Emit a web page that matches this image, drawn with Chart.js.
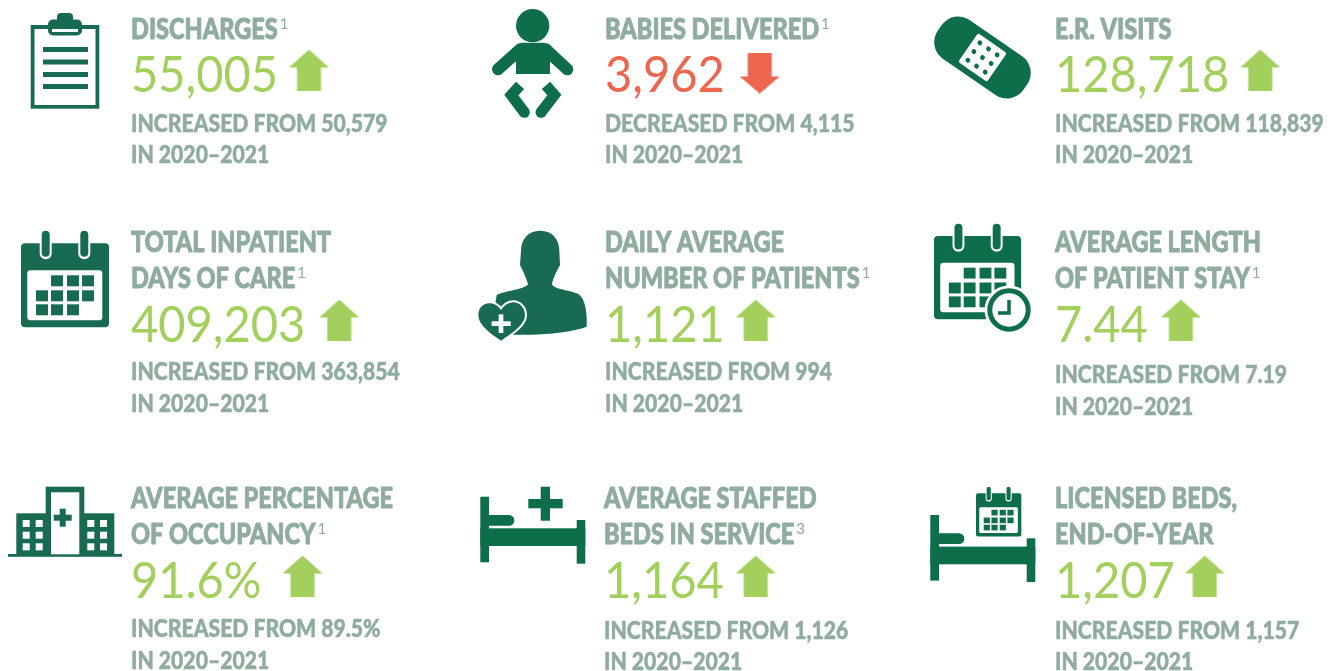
<!DOCTYPE html>
<html>
<head>
<meta charset="utf-8">
<title>Hospital statistics</title>
<script src="https://cdn.jsdelivr.net/npm/chart.js"></script>
<style>
  html, body { margin: 0; padding: 0; background: #fff; overflow: hidden; }
  canvas { display: block; }
</style>
</head>
<body>
<canvas id="stats" width="1340" height="671"></canvas>
<script>
// Data
const titles = [
  ["DISCHARGES"],
  ["BABIES DELIVERED"],
  ["E.R. VISITS"],
  ["TOTAL INPATIENT", "DAYS OF CARE"],
  ["DAILY AVERAGE", "NUMBER OF PATIENTS"],
  ["AVERAGE LENGTH", "OF PATIENT STAY"],
  ["AVERAGE PERCENTAGE", "OF OCCUPANCY"],
  ["AVERAGE STAFFED", "BEDS IN SERVICE"],
  ["LICENSED BEDS,", "END-OF-YEAR"],
]
const footnotes = ["1", "1", "", "1", "1", "1", "1", "3", ""]
const currentValues = [55005, 3962, 128718, 409203, 1121, 7.44, 91.6, 1164, 1207]
const previousValues = [50579, 4115, 118839, 363854, 994, 7.19, 89.5, 1126, 1157]
const units = ["", "", "", "", "", "", "%", "", ""]
const period = "IN 2020–2021"

// Layout of the tiles, in canvas pixels
const tileX = [131, 605, 1055, 131, 605, 1055, 131, 604, 1055]
const titleLines = [[39], [39], [39], [252, 288], [252, 288], [252, 288], [508, 544], [508, 544], [508, 544]]
const numberLine = [92, 92, 92, 342, 342, 342, 598, 598, 598]
const subLines = [[132, 163], [132, 163], [132, 163], [380, 412], [380, 412], [383, 415], [637, 669], [639, 670], [639, 670]]
const arrowGap = [31, 35, 31, 34, 31, 33, 41, 32, 30]

// Colours
const titleColor = "#8fac9d"
const upColor = "#a3d05d"
const downColor = "#ec6650"
const darkA = "#186b52"
const darkB = "#0e6e4a"

const titleFont = '900 28px Lato'
const subFont = '900 25.5px Lato'
const numberFont = '400 50px Lato'
const titleStretch = 0.84
const subStretch = 0.83
const numberStretch = 0.94

function formatValue(v, unit) {
  return v.toLocaleString("en-US") + unit
}

function subLine(i) {
  const word = currentValues[i] > previousValues[i] ? "INCREASED" : "DECREASED"
  return word + " FROM " + formatValue(previousValues[i], units[i])
}

// Arrow images handed to Chart.js as point styles
function makeArrow(color, up) {
  const c = document.createElement("canvas")
  c.width = 41
  c.height = 41
  const g = c.getContext("2d")
  g.fillStyle = color
  g.beginPath()
  if (up) {
    g.moveTo(20.5, 0); g.lineTo(40.5, 18); g.lineTo(32.5, 18); g.lineTo(32.5, 41)
    g.lineTo(8.5, 41); g.lineTo(8.5, 18); g.lineTo(0.5, 18)
  } else {
    g.moveTo(20.5, 41); g.lineTo(40.5, 24); g.lineTo(32.5, 24); g.lineTo(32.5, 0)
    g.lineTo(8.5, 0); g.lineTo(8.5, 24); g.lineTo(0.5, 24)
  }
  g.closePath()
  g.fill()
  return c
}
const arrowUp = makeArrow(upColor, true)
const arrowDown = makeArrow(downColor, false)

// Arrows sit right after the number, so measure it first
const measure = document.createElement("canvas").getContext("2d")
measure.font = numberFont
const arrowPoints = currentValues.map((v, i) => {
  const w = measure.measureText(formatValue(v, units[i])).width * numberStretch
  const up = v > previousValues[i]
  return {
    x: tileX[i] + w + arrowGap[i],
    y: numberLine[i] - (up ? 22 : 19),
  }
})

// heavy = thicken the glyphs a bit, the Lato black is lighter than the original face
function stretchedText(ctx, text, x, y, stretch, heavy) {
  ctx.save()
  ctx.translate(x, y)
  ctx.scale(stretch, 1)
  ctx.fillText(text, 0, 0)
  if (heavy) {
    ctx.strokeStyle = ctx.fillStyle
    ctx.lineWidth = heavy
    ctx.strokeText(text, 0, 0)
  }
  ctx.restore()
}

function rr(ctx, x, y, w, h, r) {
  ctx.beginPath()
  ctx.roundRect(x, y, w, h, r)
  ctx.fill()
}

function drawClipboard(ctx) {
  ctx.fillStyle = darkA
  ctx.fillRect(30.7, 25, 68.6, 83.7)
  ctx.fillStyle = "#fff"
  ctx.fillRect(34.5, 29, 61, 76)
  ctx.fillStyle = darkA
  rr(ctx, 57, 13, 16, 12, 4)
  rr(ctx, 48, 19.5, 34, 16, 5)
  ctx.fillStyle = "#fff"
  ctx.fillRect(52, 29, 26, 3)
  ctx.fillStyle = darkA
  ;[47, 59.5, 72, 84].forEach((y) => ctx.fillRect(43, y, 45, 5))
}

function drawBaby(ctx) {
  const ox = 470
  const p = (v) => v / 3
  ctx.fillStyle = darkB
  ctx.strokeStyle = darkB
  ctx.beginPath()
  ctx.arc(ox + p(188), p(77), p(50), 0, Math.PI * 2)
  ctx.fill()
  ctx.beginPath()
  ctx.moveTo(ox + p(155), p(128)); ctx.lineTo(ox + p(222), p(128)); ctx.lineTo(ox + p(240), p(145))
  ctx.lineTo(ox + p(240), p(222)); ctx.lineTo(ox + p(138), p(222)); ctx.lineTo(ox + p(138), p(145))
  ctx.closePath()
  ctx.fill()
  ctx.lineWidth = 12
  ctx.lineCap = "round"
  ctx.lineJoin = "miter"
  ;[[[152, 147], [84, 208]], [[226, 147], [292, 208]]].forEach((a) => {
    ctx.beginPath()
    ctx.moveTo(ox + p(a[0][0]), p(a[0][1]))
    ctx.lineTo(ox + p(a[1][0]), p(a[1][1]))
    ctx.stroke()
  })
  ctx.lineWidth = 11
  ;[[[150, 256], [124, 285], [163, 337]], [[228, 256], [253, 285], [213, 337]]].forEach((l) => {
    ctx.lineCap = "butt"
    ctx.beginPath()
    ctx.moveTo(ox + p(l[0][0]), p(l[0][1]))
    ctx.lineTo(ox + p(l[1][0]), p(l[1][1]))
    ctx.lineTo(ox + p(l[2][0]), p(l[2][1]))
    ctx.stroke()
    ctx.beginPath()
    ctx.arc(ox + p(l[2][0]), p(l[2][1]), 5.5, 0, Math.PI * 2)
    ctx.fill()
  })
}

function drawBandage(ctx) {
  ctx.save()
  ctx.translate(982.5, 57.5)
  ctx.rotate((34.6 * Math.PI) / 180)
  ctx.fillStyle = darkB
  rr(ctx, -52, -23.5, 104, 47, 20)
  ctx.fillStyle = "#fff"
  rr(ctx, -17.5, -17.5, 35, 35, 2)
  ctx.fillStyle = darkB
  for (let a = -1; a <= 1; a++) {
    for (let b = -1; b <= 1; b++) {
      ctx.beginPath()
      ctx.arc(a * 10.5, b * 10.5, 2.4, 0, Math.PI * 2)
      ctx.fill()
    }
  }
  ctx.restore()
}

// x, y = top left of the calendar body, s = scale against the big one
function drawCalendar(ctx, x, y, s, color) {
  ctx.fillStyle = color
  rr(ctx, x, y, 88 * s, 84 * s, 4 * s)
  ;[24.7, 63.3].forEach((rx) => {
    ctx.fillStyle = "#fff"
    rr(ctx, x + (rx - 6) * s, y - 8 * s, 12 * s, 24 * s, 6 * s)
    ctx.fillStyle = color
    rr(ctx, x + (rx - 4) * s, y - 12.5 * s, 8 * s, 26 * s, 4 * s)
  })
  ctx.fillStyle = "#fff"
  rr(ctx, x + 6.3 * s, y + 27 * s, 75 * s, 50 * s, 3 * s)
  ctx.fillStyle = color
  const cols = [15, 30, 46, 61]
  const rows = [32, 47, 61]
  const cells = [[1, 2, 3], [0, 1, 2, 3], [0, 1, 2]]
  cells.forEach((r, ri) => r.forEach((c) => ctx.fillRect(x + cols[c] * s, y + rows[ri] * s, 12 * s, 11 * s)))
}

function drawClock(ctx, cx, cy) {
  ctx.fillStyle = "#fff"
  ctx.beginPath()
  ctx.arc(cx, cy, 24.5, 0, Math.PI * 2)
  ctx.fill()
  ctx.strokeStyle = darkB
  ctx.lineWidth = 5
  ctx.beginPath()
  ctx.arc(cx, cy, 19.2, 0, Math.PI * 2)
  ctx.stroke()
  ctx.lineWidth = 3.5
  ctx.lineCap = "butt"
  ctx.lineJoin = "miter"
  ctx.beginPath()
  ctx.moveTo(cx, cy - 10)
  ctx.lineTo(cx, cy + 3)
  ctx.lineTo(cx - 11, cy + 3)
  ctx.stroke()
}

function drawPerson(ctx) {
  ctx.save()
  ctx.translate(470, 220)
  ctx.scale(1 / 3, 1 / 3)
  ctx.fillStyle = darkA
  ctx.beginPath()
  ctx.moveTo(210, 32)
  ctx.bezierCurveTo(248, 32, 268, 58, 268, 92)
  ctx.lineTo(270, 135)
  ctx.bezierCurveTo(262, 150, 250, 172, 246, 192)
  ctx.bezierCurveTo(250, 208, 300, 210, 325, 222)
  ctx.bezierCurveTo(345, 235, 352, 275, 350, 320)
  ctx.bezierCurveTo(300, 338, 220, 346, 130, 344)
  ctx.lineTo(70, 290)
  ctx.lineTo(80, 225)
  ctx.bezierCurveTo(105, 212, 168, 208, 174, 192)
  ctx.bezierCurveTo(168, 172, 158, 150, 150, 135)
  ctx.lineTo(153, 92)
  ctx.bezierCurveTo(153, 58, 175, 32, 210, 32)
  ctx.closePath()
  ctx.fill()
  const heart = new Path2D("M93 362C60 340 25 315 25 285C25 262 42 250 58 250C72 250 85 258 93 270C101 258 115 247 130 247C150 247 165 265 165 285C165 315 125 340 93 362Z")
  ctx.strokeStyle = "#fff"
  ctx.lineWidth = 12
  ctx.stroke(heart)
  ctx.fill(heart)
  ctx.fillStyle = "#fff"
  ctx.fillRect(65, 304, 57, 14)
  ctx.fillRect(86, 283, 14, 56)
  ctx.restore()
}

function drawHospital(ctx) {
  ctx.fillStyle = darkA
  ctx.fillRect(8, 554, 114, 2.8)
  ctx.fillRect(16.3, 513.3, 98, 41)
  ctx.fillRect(45.7, 486.7, 38.6, 68)
  ctx.fillStyle = "#fff"
  ctx.fillRect(51, 492.3, 28.3, 62)
  ctx.fillStyle = darkA
  ctx.fillRect(53.7, 514.7, 18, 6)
  ctx.fillRect(59.7, 508.7, 6, 18)
  ctx.fillStyle = "#fff"
  ;[22.7, 35.7, 87.3, 100].forEach((x) => {
    ;[520, 531.7, 543.3].forEach((y) => ctx.fillRect(x, y, 7, 7))
  })
}

function drawBed(ctx, x, y) {
  ctx.fillStyle = darkB
  ctx.fillRect(x, y, 8.7, 65.6)
  ctx.fillRect(x + 96.4, y + 23.3, 8.6, 43.7)
  ctx.fillRect(x, y + 31.6, 105, 17.7)
  rr(ctx, x + 6, y + 18.3, 28, 10.7, [0, 5.3, 5.3, 0])
}

function drawIcons(ctx) {
  drawClipboard(ctx)
  drawBaby(ctx)
  drawBandage(ctx)
  drawCalendar(ctx, 21, 243.3, 1, darkA)
  drawPerson(ctx)
  drawCalendar(ctx, 934, 236, 0.99, darkB)
  drawClock(ctx, 1009, 310)
  drawHospital(ctx)
  drawBed(ctx, 480.3, 496.7)
  ctx.fillStyle = darkB
  ctx.fillRect(528.3, 499, 34.4, 9.3)
  ctx.fillRect(540.7, 486.7, 9.3, 34)
  drawBed(ctx, 930.3, 515)
  drawCalendar(ctx, 976, 493.3, 0.515, darkB)
}

const tilesPlugin = {
  id: "tiles",
  beforeDatasetsDraw(chart) {
    const ctx = chart.ctx
    const sx = chart.scales.x
    const sy = chart.scales.y
    ctx.save()
    drawIcons(ctx)
    ctx.textBaseline = "alphabetic"
    ctx.lineJoin = "round"
    titles.forEach((lines, i) => {
      const x = sx.getPixelForValue(tileX[i])
      ctx.fillStyle = titleColor
      ctx.font = titleFont
      lines.forEach((line, k) => stretchedText(ctx, line, x, sy.getPixelForValue(titleLines[i][k]), titleStretch, 0.9))
      if (footnotes[i]) {
        const last = lines.length - 1
        const w = ctx.measureText(lines[last]).width * titleStretch
        ctx.font = "400 15px Lato"
        ctx.fillStyle = titleColor
        ctx.fillText(footnotes[i], x + w + 2, sy.getPixelForValue(titleLines[i][last] - 10))
      }
      ctx.font = numberFont
      ctx.fillStyle = currentValues[i] > previousValues[i] ? upColor : downColor
      stretchedText(ctx, formatValue(currentValues[i], units[i]), x, sy.getPixelForValue(numberLine[i]), numberStretch)
      ctx.font = subFont
      ctx.fillStyle = titleColor
      stretchedText(ctx, subLine(i), x, sy.getPixelForValue(subLines[i][0]), subStretch, 0.5)
      stretchedText(ctx, period, x, sy.getPixelForValue(subLines[i][1]), subStretch, 0.5)
    })
    ctx.restore()
  },
}

new Chart(document.getElementById("stats"), {
  type: "scatter",
  data: {
    datasets: [
      {
        label: "Change",
        data: arrowPoints,
        pointStyle: currentValues.map((v, i) => (v > previousValues[i] ? arrowUp : arrowDown)),
      },
    ],
  },
  options: {
    responsive: false,
    animation: false,
    layout: { padding: 0, autoPadding: false },
    plugins: { legend: { display: false }, tooltip: { enabled: false } },
    scales: {
      x: { type: "linear", min: 0, max: 1340, display: false },
      y: { type: "linear", min: 0, max: 671, reverse: true, display: false },
    },
  },
  plugins: [tilesPlugin],
})
</script>
</body>
</html>
